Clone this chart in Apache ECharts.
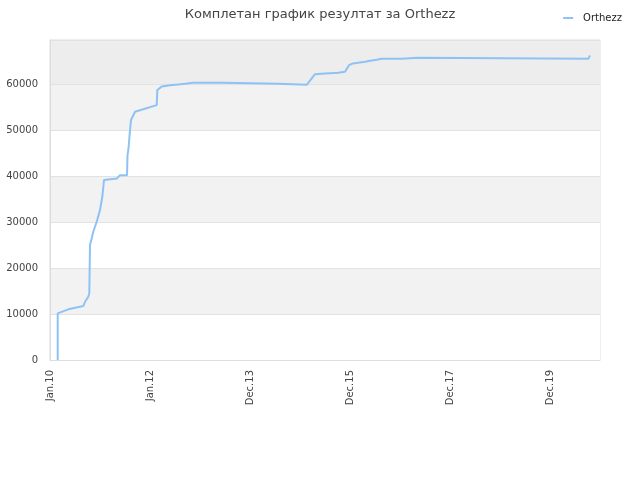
<!DOCTYPE html>
<html>
<head>
<meta charset="utf-8">
<script src="https://cdn.jsdelivr.net/npm/echarts@6/dist/echarts.min.js"></script>
<style>html,body{margin:0;padding:0;background:#fff}#c{width:640px;height:480px}</style>
</head>
<body>
<div id="c"></div>
<script>
// x positions are in "slot" units: one tick label every 20 units
const xTickLabels = ['Jan.10', 'Jan.12', 'Dec.13', 'Dec.15', 'Dec.17', 'Dec.19'];
const xPos = [1.54, 1.54, 3.66, 6.66, 7.0, 7.66, 7.86, 8.0, 8.34, 8.66, 9.34, 10, 10.46, 10.8, 11, 13.4, 14, 15.4, 15.5, 15.7, 16, 16.2, 17, 21.34, 21.46, 22.34, 24, 25.66, 27, 28.6, 34.6, 34.6, 45.6, 45.6, 51.34, 53, 55, 57.6, 59, 59.8, 60.6, 61.6, 63, 64, 65.34, 66.34, 70.34, 70.34, 73.6, 73.6, 107.66, 108];
const scores = [0, 10150, 11020, 11740, 12670, 13760, 14500, 25000, 26450, 27900, 30070, 32600, 35500, 39130, 39350, 39500, 40200, 40200, 44500, 46000, 50000, 52200, 54000, 55430, 58700, 59500, 59780, 59930, 60070, 60300, 60300, 60070, 60070, 59850, 59850, 62170, 62300, 62460, 62670, 64130, 64500, 64630, 64850, 65070, 65290, 65500, 65500, 65720, 65720, 65500, 65500, 66230];
const seriesName = 'Orthezz';
const titleText = 'Комплетан график резултат за Orthezz';

const chart = echarts.init(document.getElementById('c'), null, {renderer: 'canvas'});
chart.setOption({
  animation: false,
  backgroundColor: '#ffffff',
  title: {
    text: titleText,
    left: 'center',
    top: 3,
    textStyle: {fontFamily: 'DejaVu Sans', fontSize: 13, fontWeight: 'normal', color: '#444444'}
  },
  legend: {
    data: [{name: seriesName, icon: 'rect'}],
    right: 13,
    top: 8,
    itemWidth: 10,
    itemHeight: 2,
    textStyle: {fontFamily: 'DejaVu Sans', fontSize: 10, color: '#222222', padding: [0, 0, 0, 5]}
  },
  grid: {left: 50, right: 40, top: 40, bottom: 120, show: true, borderColor: '#dddddd', borderWidth: 1, backgroundColor: 'transparent'},
  xAxis: {
    type: 'value',
    min: 0,
    max: 110,
    interval: 20,
    axisLine: {show: true, lineStyle: {color: '#dddddd'}},
    axisTick: {show: false},
    splitLine: {show: false},
    axisLabel: {
      rotate: 90,
      showMaxLabel: false,
      fontFamily: 'DejaVu Sans',
      fontSize: 10,
      color: '#444444',
      margin: 10,
      formatter: v => xTickLabels[Math.round(v / 20)] || ''
    }
  },
  yAxis: {
    type: 'value',
    min: 0,
    max: 69600,
    interval: 10000,
    axisLine: {show: true, lineStyle: {color: '#dddddd'}},
    axisTick: {show: false},
    splitLine: {show: true, lineStyle: {color: '#e2e2e2'}},
    splitArea: {show: true, areaStyle: {color: ['#ffffff', '#f2f2f2', '#ffffff', '#f2f2f2', '#ffffff', '#f2f2f2', '#ededed']}},
    axisLabel: {showMaxLabel: false, fontFamily: 'DejaVu Sans', fontSize: 10, color: '#444444', margin: 12, formatter: v => String(v)}
  },
  series: [{
    name: seriesName,
    type: 'line',
    showSymbol: false,
    symbol: 'none',
    data: xPos.map((x, i) => [x, scores[i]]),
    lineStyle: {color: '#8ec2f4', width: 2},
    itemStyle: {color: '#8ec2f4'}
  }]
});
</script>
</body>
</html>
